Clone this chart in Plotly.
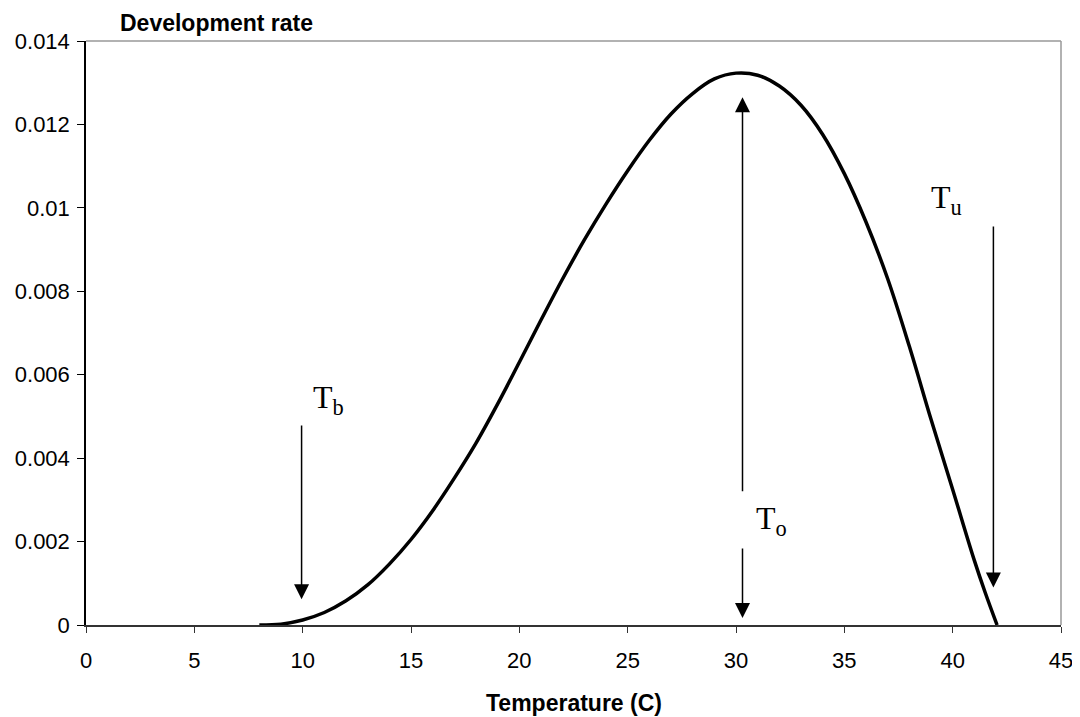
import plotly.graph_objects as go

# development rate curve
temperature = [8, 9, 10, 11, 12, 13, 14, 15, 16, 17, 18, 19, 20, 21, 22, 23, 24, 25,
               26, 27, 28, 29, 30, 31, 32, 33, 34, 35, 36, 37, 38, 39, 40, 41, 41.5, 42.05]
rate = [0.0, 0.00002, 0.00012, 0.0003, 0.00058, 0.00096, 0.00146, 0.00205, 0.00274,
        0.00352, 0.00436, 0.0053, 0.0063, 0.00731, 0.0083, 0.00923, 0.01009, 0.01089,
        0.01162, 0.01225, 0.01274, 0.01309, 0.01323, 0.01318, 0.01292, 0.01246, 0.01176,
        0.01082, 0.00966, 0.0083, 0.00668, 0.00493, 0.00325, 0.00155, 0.00078, 0.0]

x_ticks = [0, 5, 10, 15, 20, 25, 30, 35, 40, 45]
y_ticks = [0, 0.002, 0.004, 0.006, 0.008, 0.01, 0.012, 0.014]
y_tick_text = ["0", "0.002", "0.004", "0.006", "0.008", "0.01", "0.012", "0.014"]

# marker arrows: (x, y_from, y_to)
arrows = [
    (9.95, 0.00482, 0.00062),   # Tb
    (30.3, 0.00317, 0.01265),   # To up
    (30.3, 0.00187, 0.00017),   # To down
    (41.88, 0.00959, 0.00090),  # Tu
]
# labels: (text, x, y)
labels = [
    ("T<sub>b</sub>", 10.4, 0.0054),
    ("T<sub>o</sub>", 30.85, 0.0025),
    ("T<sub>u</sub>", 38.92, 0.0102),
]

SANS = "Liberation Sans, Arial, sans-serif"
SERIF = "Liberation Serif, Times New Roman, serif"

fig = go.Figure()
fig.add_trace(go.Scatter(x=temperature, y=rate, mode="lines",
                         line=dict(color="black", width=3.5, shape="spline", smoothing=1.0),
                         showlegend=False, hoverinfo="skip"))

for x, y0, y1 in arrows:
    fig.add_annotation(x=x, y=y1, ax=x, ay=y0, xref="x", yref="y", axref="x", ayref="y",
                       text="", showarrow=True, arrowhead=2, arrowsize=2,
                       arrowwidth=1.5, arrowcolor="black", standoff=0, startstandoff=0)

for txt, x, y in labels:
    fig.add_annotation(x=x, y=y, xref="x", yref="y", text=txt, showarrow=False,
                       xanchor="left", yanchor="middle",
                       font=dict(family=SERIF, size=32, color="black"))

# axis titles
fig.add_annotation(x=0.033, y=1.031, xref="paper", yref="paper", text="<b>Development rate</b>",
                   showarrow=False, xanchor="left", yanchor="middle",
                   font=dict(family=SANS, size=23, color="black"))
fig.add_annotation(x=0.5, y=-0.134, xref="paper", yref="paper", text="<b>Temperature (C)</b>",
                   showarrow=False, xanchor="center", yanchor="middle",
                   font=dict(family=SANS, size=23, color="black"))

# grey top and right border
fig.add_shape(type="line", xref="paper", yref="paper", x0=0, x1=1, y0=1, y1=1,
              line=dict(color="#999999", width=1.5))
fig.add_shape(type="line", xref="paper", yref="paper", x0=1, x1=1, y0=0, y1=1,
              line=dict(color="#999999", width=1.5))

# page body adds 8px, so the figure is 8px smaller than the window
fig.update_layout(
    width=1072, height=709,
    margin=dict(l=78, r=19, t=33, b=92, autoexpand=False),
    paper_bgcolor="white", plot_bgcolor="white",
    font=dict(family=SANS, size=22, color="black"),
    xaxis=dict(range=[0, 45], tickvals=x_ticks, showgrid=False, zeroline=False,
               showline=True, linecolor="#333333", linewidth=1.5, automargin=False,
               ticks="outside", ticklen=6, tickwidth=1, tickcolor="#333333",
               ticklabelstandoff=9),
    xaxis2=dict(range=[0, 45], tickvals=x_ticks, overlaying="x", matches="x",
                anchor="y", side="bottom", showgrid=False, zeroline=False,
                showline=False, ticks="inside", ticklen=6, tickwidth=1,
                tickcolor="#333333", showticklabels=False, automargin=False),
    yaxis=dict(range=[0, 0.014], tickvals=y_ticks, ticktext=y_tick_text,
               showgrid=False, zeroline=False, showline=True, linecolor="black",
               linewidth=1.5, ticks="outside", ticklen=7, tickwidth=1, automargin=False,
               tickcolor="black", ticklabelstandoff=3),
)

fig.write_html("out.html")
